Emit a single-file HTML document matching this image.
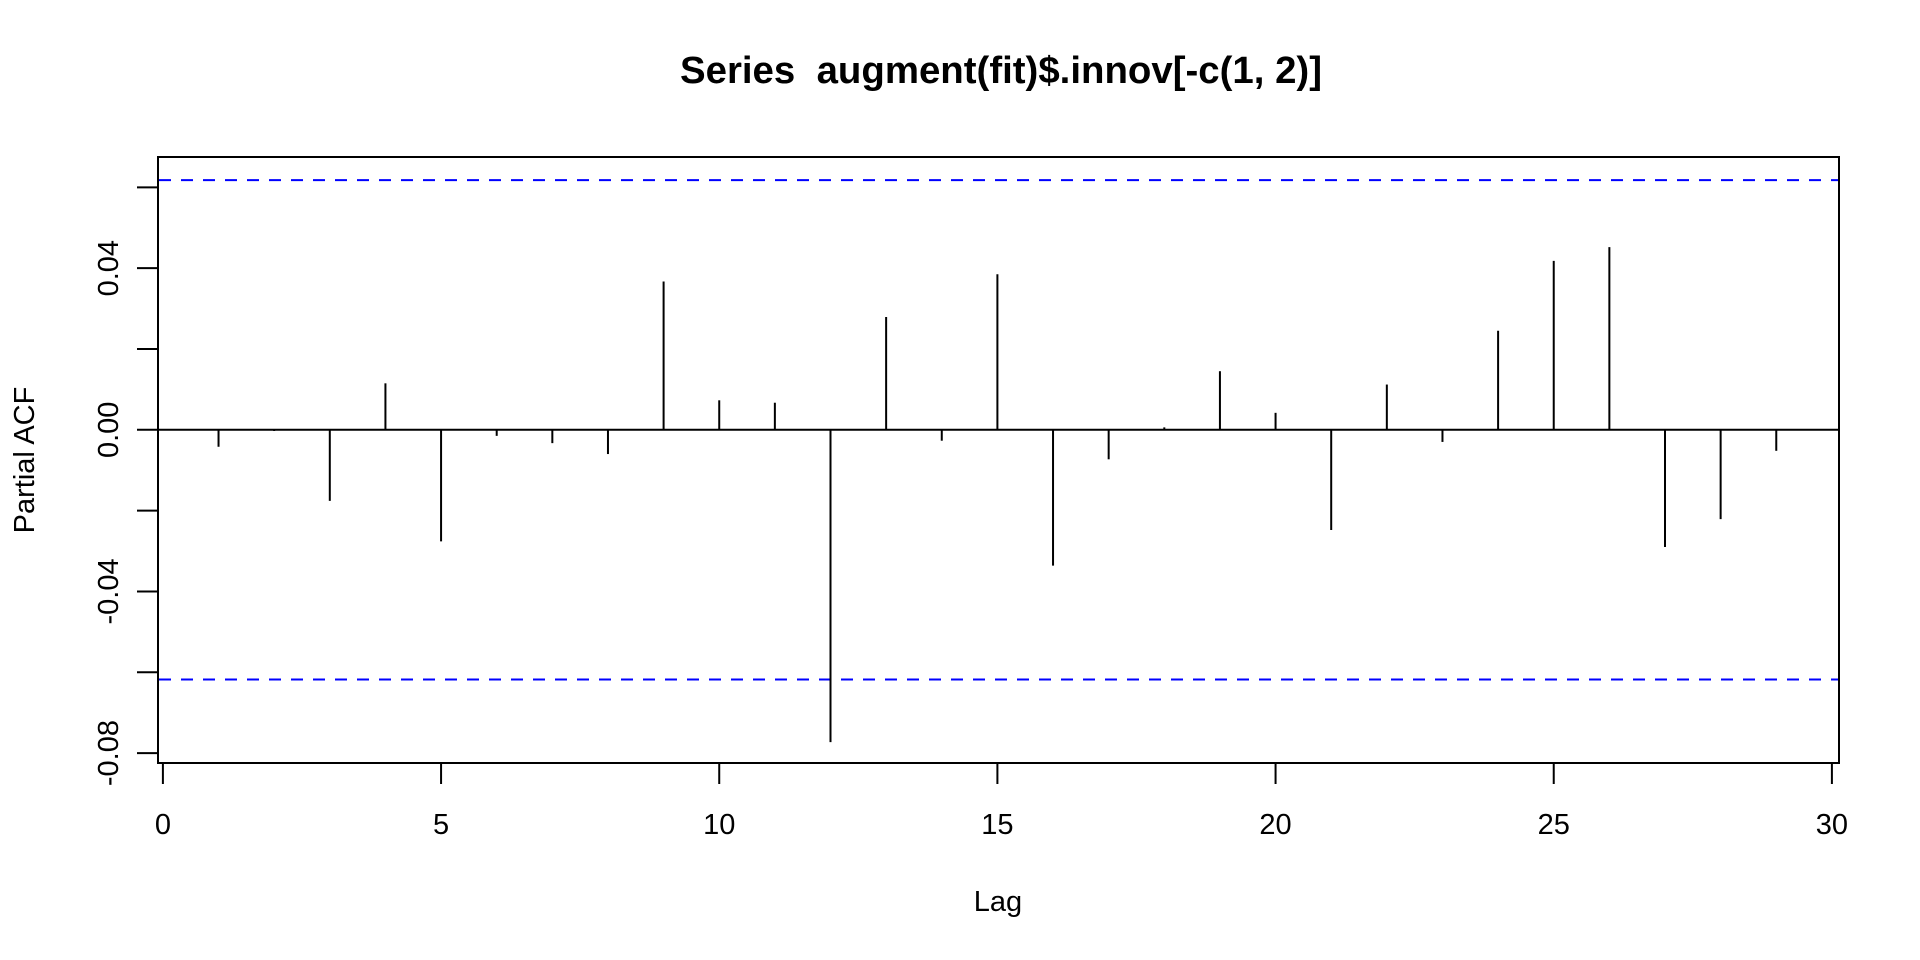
<!DOCTYPE html>
<html><head><meta charset="utf-8"><style>
html,body{margin:0;padding:0;background:#fff;}
svg{display:block;font-family:"Liberation Sans",Arial,sans-serif;}
</style></head><body>
<svg id="chart" width="1920" height="960" viewBox="0 0 1920 960" xmlns="http://www.w3.org/2000/svg">
<text x="1001" y="83" text-anchor="middle" font-size="38" font-weight="bold" textLength="642" lengthAdjust="spacingAndGlyphs">Series&#160; augment(fit)$.innov[-c(1, 2)]</text>
<text x="998" y="911" text-anchor="middle" font-size="29">Lag</text>
<text transform="translate(34,460) rotate(-90)" text-anchor="middle" font-size="29">Partial ACF</text>
<rect x="158" y="157" width="1681" height="606" fill="none" stroke="#000" stroke-width="2"/>
<g id="xaxis"></g>
<g id="yaxis"></g>
<g id="marks"></g>
</svg>
<script>
const lags = [1,2,3,4,5,6,7,8,9,10,11,12,13,14,15,16,17,18,19,20,21,22,23,24,25,26,27,28,29];
const pacfValues = [-0.0042,-0.0003,-0.0176,0.0115,-0.0276,-0.0015,-0.0033,-0.006,0.0367,0.0073,0.0067,-0.0773,0.0279,-0.0027,0.0385,-0.0336,-0.0073,0.0006,0.0145,0.0042,-0.0248,0.0112,-0.003,0.0245,0.0418,0.0452,-0.029,-0.0221,-0.0052];
const xTicks = [0,5,10,15,20,25,30];
const yTicks = [-0.08,-0.06,-0.04,-0.02,0,0.02,0.04,0.06];
const yTickLabels = ["-0.08","","-0.04","","0.00","","0.04",""];
const ciBound = [0.0618];

const NS="http://www.w3.org/2000/svg";
function X(v){return 162.9+(v-0)*(1831.9-162.9)/30;}
function Y(v){return 429.8-v*4041;}
function mk(tag,attrs,parent){const e=document.createElementNS(NS,tag);for(const k in attrs)e.setAttribute(k,attrs[k]);parent.appendChild(e);return e;}
const xa=document.getElementById('xaxis'),ya=document.getElementById('yaxis'),mg=document.getElementById('marks');
mk('line',{x1:X(xTicks[0]),x2:X(xTicks[xTicks.length-1]),y1:763,y2:763,stroke:'#000','stroke-width':2},xa);
xTicks.forEach(t=>{
  const l=mk('line',{x1:X(t),x2:X(t),y1:763,y2:784,stroke:'#000','stroke-width':2},xa);
  
  
  const tx=mk('text',{x:X(t),y:834,'text-anchor':'middle','font-size':29},xa);
  tx.textContent=String(t);
  
  
});
mk('line',{x1:158,x2:158,y1:Y(yTicks[0]),y2:Y(yTicks[yTicks.length-1]),stroke:'#000','stroke-width':2},ya);
yTicks.forEach((t,i)=>{
  const l=mk('line',{x1:137,x2:158,y1:Y(t),y2:Y(t),stroke:'#000','stroke-width':2},ya);
  
  
  if(yTickLabels[i]){
    const tx=mk('text',{transform:`translate(118,${Y(t)}) rotate(-90)`,'text-anchor':'middle','font-size':29},ya);
    tx.textContent=yTickLabels[i];
    
    
  }
});
const zl=mk('line',{x1:158,x2:1839,y1:Y(0),y2:Y(0),stroke:'#000','stroke-width':2},mg);


[ciBound[0],-ciBound[0]].forEach(b=>{
  const l=mk('line',{x1:159,x2:1838,y1:Y(b),y2:Y(b),stroke:'#0000ff','stroke-width':2,'stroke-dasharray':'12,10'},mg);
  
  
});
lags.forEach((lag,i)=>{
  const l=mk('line',{x1:X(lag),x2:X(lag),y1:Y(0),y2:Y(pacfValues[i]),stroke:'#000','stroke-width':2},mg);
  
  
});
</script>
</body></html>
